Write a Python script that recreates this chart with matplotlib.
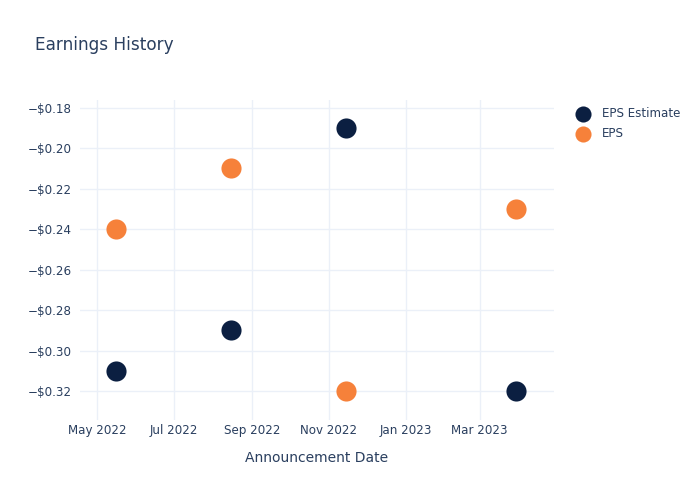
import matplotlib
matplotlib.use("Agg")
import matplotlib.pyplot as plt
import matplotlib.dates as mdates
import matplotlib.ticker as mticker
import numpy as np
from datetime import datetime

dates = ["2022-05-16", "2022-08-15", "2022-11-15", "2023-03-30"]
eps_estimate = [-0.31, -0.29, -0.19, -0.32]
eps_actual = [-0.24, -0.21, -0.32, -0.23]
series_names = ["EPS Estimate", "EPS"]
colors = ["#0b1f41", "#f6813a"]

x = [datetime.strptime(d, "%Y-%m-%d") for d in dates]

text_color = "#2a3f5f"
grid_color = "#ebf0f8"

fig = plt.figure(figsize=(7, 5), dpi=100)
ax = fig.add_axes([80/700, 80/500, 474/700, 320/500])

h1 = ax.scatter(x, eps_estimate, s=210, color=colors[0], zorder=3, linewidths=0, label=series_names[0])
h2 = ax.scatter(x, eps_actual, s=210, color=colors[1], zorder=3, linewidths=0, label=series_names[1])

ax.set_xlim(datetime(2022, 4, 17, 8), datetime(2023, 4, 29))
ax.set_ylim(-0.3342, -0.1762)

ax.yaxis.set_major_locator(mticker.MultipleLocator(0.02))
ax.yaxis.set_major_formatter(mticker.FuncFormatter(
    lambda v, p: ("\u2212$%.2f" % abs(v)) if v < 0 else ("$%.2f" % v)))

ax.xaxis.set_major_locator(mdates.MonthLocator(bymonth=[1, 3, 5, 7, 9, 11]))
ax.xaxis.set_major_formatter(mdates.DateFormatter("%b %Y"))

for s in ax.spines.values():
    s.set_visible(False)
ax.grid(True, color=grid_color, linewidth=1)
ax.set_axisbelow(True)
ax.tick_params(axis="both", length=0, colors=text_color, labelsize=8.6)
ax.tick_params(axis="y", pad=6)
ax.tick_params(axis="x", pad=3)

ax.set_xlabel("Announcement Date", color=text_color, fontsize=10, labelpad=10)

fig.text(35/700, 1 - 45/500, "Earnings History", color=text_color, fontsize=12.2, va="center", ha="left")

leg = fig.legend(handles=[h1, h2], labels=series_names, loc="upper left",
                 bbox_to_anchor=(571/700, 1 - 107/500), frameon=False,
                 fontsize=8.6, labelcolor=text_color, handletextpad=0.6,
                 labelspacing=0.6, markerscale=0.8, borderaxespad=0, borderpad=0)

fig.savefig("out.png", dpi=100)
